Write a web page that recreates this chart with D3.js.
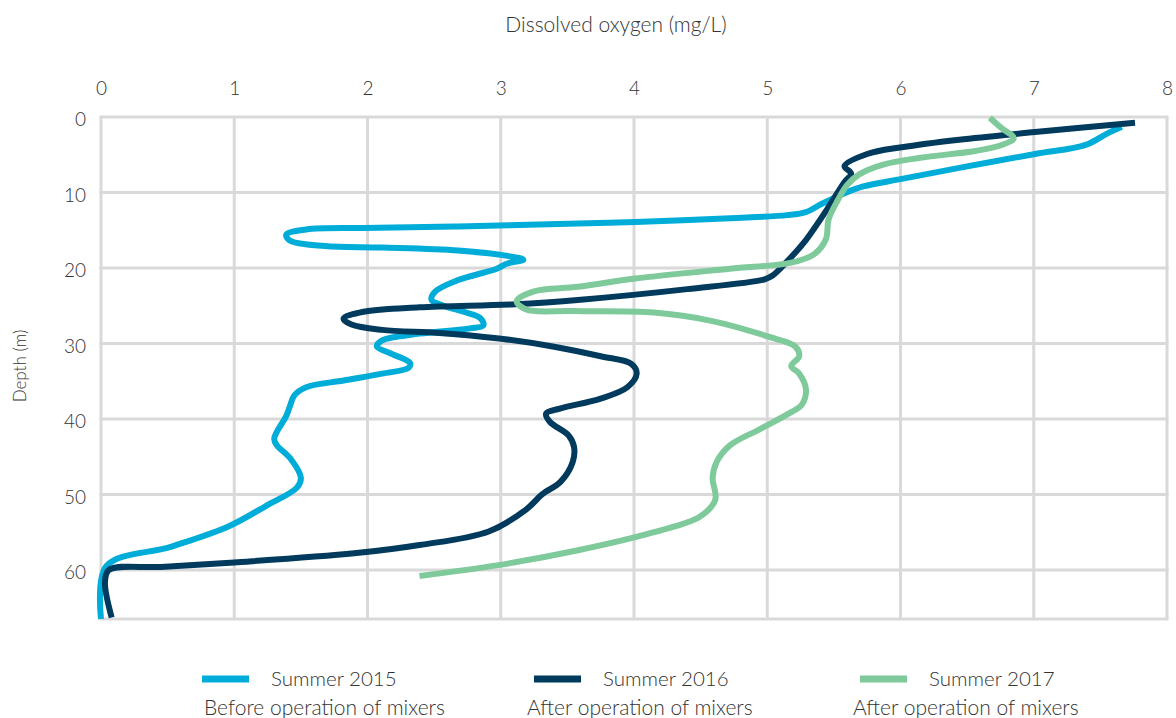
<!DOCTYPE html>
<html>
<head>
<meta charset="utf-8">
<script src="https://cdn.jsdelivr.net/npm/d3@7"></script>
<style>
  html, body { margin: 0; padding: 0; background: #fff; }
  svg { display: block; font-family: Lato, "Open Sans", "Noto Sans", sans-serif; font-weight: 300; }
</style>
</head>
<body>
<svg id="chart" width="1176" height="718"></svg>
<script>
// Dissolved oxygen profiles (mg/L) against depth (m)
const xTicks = [0, 1, 2, 3, 4, 5, 6, 7, 8];
const yTicks = [0, 10, 20, 30, 40, 50, 60];
const depthMax = 66.5;

const depth2015 = [1.3, 2.2, 3.7, 4.9, 6.7, 8.2, 9.2, 10.1, 11.5, 12.6, 13.0, 13.4, 13.9, 14.1, 14.5, 14.7, 14.9, 15.6, 16.4, 17.1, 17.3, 17.7, 18.4, 18.9, 19.4, 20.1, 21.6, 23.1, 24.2, 25.0, 25.9, 26.7, 27.6, 28.0, 28.7, 29.6, 30.4, 31.3, 32.6, 33.2, 34.0, 34.9, 35.8, 36.9, 38.2, 39.6, 42.6, 43.5, 45.2, 47.8, 49.1, 51.5, 54.2, 56.9, 59.5, 66.5];
const do2015 = [7.66, 7.55, 7.39, 7.01, 6.45, 6.01, 5.72, 5.58, 5.41, 5.29, 5.15, 4.72, 4.01, 3.58, 2.68, 1.97, 1.54, 1.39, 1.42, 1.68, 2.11, 2.68, 3.05, 3.17, 3.05, 2.97, 2.68, 2.51, 2.48, 2.57, 2.74, 2.85, 2.87, 2.77, 2.39, 2.11, 2.07, 2.17, 2.32, 2.31, 2.11, 1.82, 1.54, 1.45, 1.42, 1.39, 1.30, 1.32, 1.42, 1.50, 1.47, 1.24, 0.96, 0.53, 0.04, 0.0];

const depth2016 = [0.75, 2.0, 3.0, 4.0, 4.9, 6.5, 7.5, 8.6, 12.2, 16.3, 19.3, 21.0, 21.5, 22.8, 24.2, 24.8, 25.2, 25.8, 26.7, 27.5, 28.2, 28.6, 29.3, 30.4, 31.7, 32.7, 34.0, 35.8, 37.3, 38.6, 39.3, 40.4, 42.2, 43.7, 45.7, 48.3, 50.0, 52.0, 54.9, 56.7, 57.8, 59.0, 59.6, 60.0, 61.6, 66.3];
const do2016 = [7.76, 7.01, 6.44, 6.01, 5.75, 5.58, 5.63, 5.58, 5.45, 5.29, 5.14, 5.04, 4.98, 4.40, 3.60, 3.11, 2.39, 1.97, 1.82, 1.88, 2.11, 2.54, 2.97, 3.39, 3.75, 3.98, 4.02, 3.95, 3.75, 3.45, 3.34, 3.37, 3.51, 3.55, 3.54, 3.45, 3.31, 3.19, 2.91, 2.39, 1.90, 1.00, 0.45, 0.06, 0.03, 0.08];

const depth2017 = [0.1, 1.5, 2.8, 3.7, 4.5, 5.4, 6.3, 7.6, 9.0, 11.0, 13.6, 16.2, 18.2, 19.3, 20.1, 21.4, 22.5, 23.1, 24.4, 25.5, 25.7, 25.9, 27.0, 29.1, 30.4, 31.7, 33.0, 34.0, 36.0, 38.1, 39.1, 41.3, 43.5, 45.7, 47.8, 50.7, 53.0, 55.0, 57.4, 59.4, 60.8];
const do2017 = [6.67, 6.76, 6.85, 6.76, 6.56, 6.15, 5.87, 5.69, 5.60, 5.53, 5.46, 5.44, 5.35, 5.18, 4.72, 4.01, 3.58, 3.25, 3.12, 3.19, 3.54, 4.15, 4.58, 5.01, 5.21, 5.24, 5.18, 5.24, 5.29, 5.26, 5.18, 4.95, 4.72, 4.62, 4.59, 4.61, 4.49, 4.15, 3.58, 2.97, 2.39];

const seriesNames = ["Summer 2015", "Summer 2016", "Summer 2017"];
const seriesNotes = ["Before operation of mixers", "After operation of mixers", "After operation of mixers"];
const seriesColors = ["#00acd8", "#003a5d", "#7fca9b"];

const series = [
  { name: seriesNames[0], note: seriesNotes[0], color: seriesColors[0], depth: depth2015, value: do2015 },
  { name: seriesNames[1], note: seriesNotes[1], color: seriesColors[1], depth: depth2016, value: do2016 },
  { name: seriesNames[2], note: seriesNotes[2], color: seriesColors[2], depth: depth2017, value: do2017 }
];

const svg = d3.select("#chart");
const plot = { left: 101, right: 1167, top: 117, bottom: 619 };

const x = d3.scaleLinear().domain([0, 8]).range([plot.left, plot.right]);
const y = d3.scaleLinear().domain([0, depthMax]).range([plot.top, plot.bottom]);

const textColor = "#333";
const gridColor = "#d9d9d9";

// grid
const grid = svg.append("g");
grid.selectAll("line.v").data(xTicks).join("line")
  .attr("x1", d => x(d)).attr("x2", d => x(d))
  .attr("y1", y(0)).attr("y2", y(depthMax))
  .attr("stroke", gridColor).attr("stroke-width", 3);
grid.selectAll("line.h").data(yTicks.concat([depthMax])).join("line")
  .attr("x1", x(0) - 1.5).attr("x2", x(8) + 1.5)
  .attr("y1", d => y(d)).attr("y2", d => y(d))
  .attr("stroke", gridColor).attr("stroke-width", 3);

// top axis
const xAxis = svg.append("g")
  .attr("transform", `translate(0,${plot.top - 22})`)
  .call(d3.axisTop(x).tickValues(xTicks).tickSize(0).tickPadding(0));
xAxis.select(".domain").remove();
xAxis.selectAll("text")
  .attr("font-size", 19).attr("fill", textColor)
  .attr("font-family", "Lato, 'Open Sans', sans-serif").attr("font-weight", 300);

// left axis
const yAxis = svg.append("g")
  .attr("transform", `translate(${plot.left - 15},0)`)
  .call(d3.axisLeft(y).tickValues(yTicks).tickSize(0).tickPadding(0));
yAxis.select(".domain").remove();
yAxis.selectAll("text")
  .attr("font-size", 19).attr("fill", textColor).attr("dy", "0.45em")
  .attr("font-family", "Lato, 'Open Sans', sans-serif").attr("font-weight", 300);

// axis titles
svg.append("text")
  .attr("x", 616).attr("y", 32)
  .attr("text-anchor", "middle")
  .attr("font-size", 21).attr("fill", textColor)
  .text("Dissolved oxygen (mg/L)");
svg.append("text")
  .attr("transform", "translate(26,366) rotate(-90)")
  .attr("text-anchor", "middle")
  .attr("font-size", 17).attr("fill", textColor)
  .text("Depth (m)");

// profiles
const line = d3.line()
  .x(d => x(d[0]))
  .y(d => y(d[1]))
  .curve(d3.curveCatmullRom.alpha(0.5));

svg.append("g").selectAll("path").data(series).join("path")
  .attr("d", s => line(s.value.map((v, i) => [v, s.depth[i]])))
  .attr("fill", "none")
  .attr("stroke", s => s.color)
  .attr("stroke-width", 6)
  .attr("stroke-linejoin", "round")
  .attr("stroke-linecap", "butt");

// legend
const legendX = [202, 534, 860];
const noteX = [204, 527, 853];
const legend = svg.append("g");
series.forEach((s, i) => {
  legend.append("line")
    .attr("x1", legendX[i]).attr("x2", legendX[i] + 47)
    .attr("y1", 679).attr("y2", 679)
    .attr("stroke", s.color).attr("stroke-width", 7);
  legend.append("text")
    .attr("x", legendX[i] + 69).attr("y", 686)
    .attr("font-size", 20.5).attr("fill", textColor)
    .text(s.name);
  legend.append("text")
    .attr("x", noteX[i]).attr("y", 715)
    .attr("font-size", 21).attr("fill", textColor)
    .text(s.note);
});
</script>
</body>
</html>
